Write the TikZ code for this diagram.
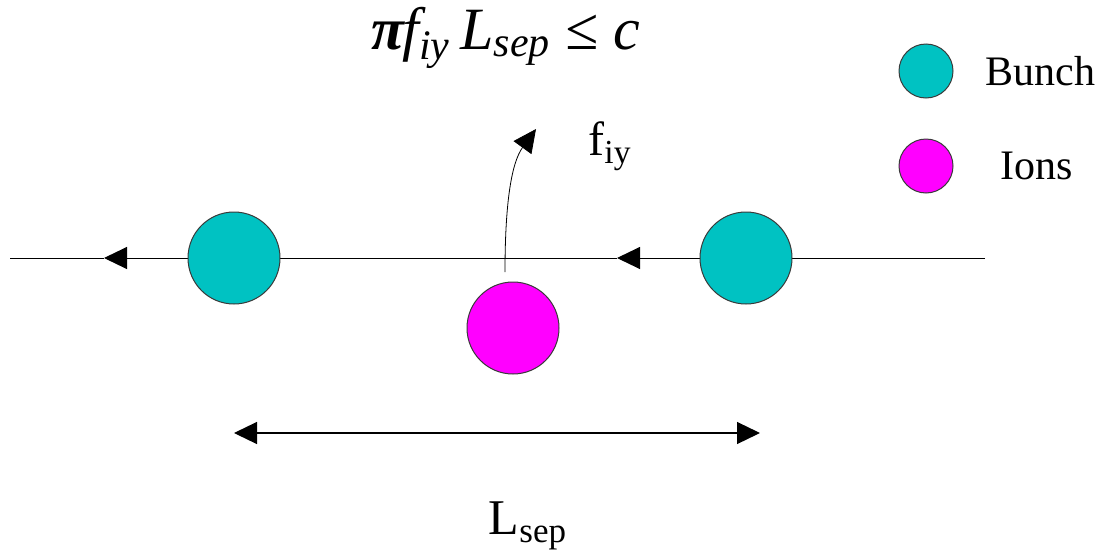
\documentclass[tikz,border=0pt]{standalone}
\usepackage{fontspec}
\setmainfont{Liberation Serif}
\usepackage{xcolor}
\usetikzlibrary{arrows.meta,positioning}
\definecolor{bunchcyan}{HTML}{00C2C2}
\definecolor{ionmag}{HTML}{FF00FF}
\definecolor{ring}{HTML}{3A3A3A}
\tikzset{
  bunch/.style={circle,draw=ring,fill=bunchcyan,line width=0.5pt,
                minimum size=46pt,inner sep=0pt},
  ion/.style={circle,draw=ring,fill=ionmag,line width=0.5pt,
              minimum size=46pt,inner sep=0pt},
  legdot/.style={circle,draw=ring,line width=0.5pt,minimum size=27pt,inner sep=0pt},
  legtext/.style={font=\fontsize{21}{25}\selectfont,anchor=west,inner sep=0pt},
  beamarr/.style={-{Triangle[length=11.5pt,width=11pt]},line width=0.5pt},
  separr/.style={{Triangle[length=11.5pt,width=11pt]}-{Triangle[length=11.5pt,width=11pt]},
                 line width=0.6pt}
}
\begin{document}
\begin{tikzpicture}[x=0.5pt,y=-0.5pt]
    \path[use as bounding box] (0,0) rectangle (1104,552);
    % beam line, bunches moving to the left
    \coordinate (beamE) at (985,258);
    \coordinate (beamW) at (10,258);
    \coordinate (tipR) at (617,258);
    \coordinate (tipL) at (104,258);
    \draw[beamarr] (beamE) -- (tipR);
    \draw[beamarr] (tipR) -- (tipL);
    \draw[line width=0.5pt] (tipL) -- (beamW);
    % kick on the ion
    \coordinate (kickS) at (505,272);
    \coordinate (kickE) at (536,129);
    \draw[beamarr,line width=0.4pt] (kickS) .. controls (505,200) and (512,162) .. (kickE);
    \node[bunch] (bunchL) at (234,258) {};
    \node[bunch] (bunchR) at (746,258) {};
    \node[ion] (ionC) at (513,328) {};
    \node[font=\fontsize{24}{28}\selectfont] (fiy) at (610,146) {f\textsubscript{iy}};
    \node[font=\fontsize{30}{34}\selectfont\itshape] (cond) at (506,38)
      {\textbf{π}\kern-1pt f\textsubscript{iy}\,L\textsubscript{sep} ≤ c};
    % spacing between bunches
    \coordinate (sepW) at (234,433);
    \coordinate (sepE) at (760,433);
    \draw[separr] (sepW) -- (sepE);
    \node[font=\fontsize{25}{28}\selectfont] (lsep) at (528,526) {L\textsubscript{sep}};
    % legend
    \node[legdot,fill=bunchcyan] (legB) at (926,71) {};
    \node[legdot,fill=ionmag] (legI) at (926,166) {};
    \node[legtext] (legBt) at (985,71) {Bunch};
    \node[legtext] (legIt) at (1000,166) {Ions};
  \end{tikzpicture}
\end{document}
